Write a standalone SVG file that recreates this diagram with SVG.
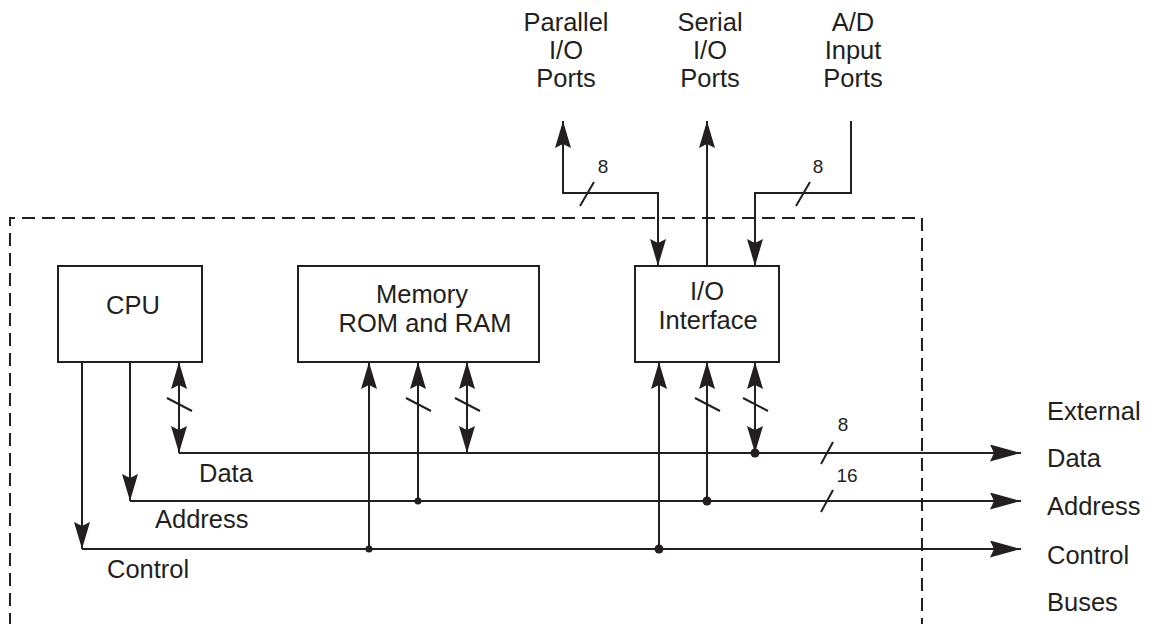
<svg xmlns="http://www.w3.org/2000/svg" width="1156" height="624" viewBox="0 0 1156 624">
<style>
text{font-family:"Liberation Sans",Arial,sans-serif;fill:#231f20;font-size:25.5px}
.sm{font-size:19px}
.mid{text-anchor:middle}
.ln{fill:none;stroke:#231f20;stroke-width:2}
.box{fill:#fff;stroke:#231f20;stroke-width:2}
.dash{fill:none;stroke:#231f20;stroke-width:2;stroke-dasharray:13 7}
.dot{fill:#231f20}
.a{marker-end:url(#ah)}
.b{marker-start:url(#ah);marker-end:url(#ah)}
.r{marker-end:url(#ahL)}
</style>
<defs>
<marker id="ah" markerUnits="userSpaceOnUse" viewBox="0 0 27 16" refX="27" refY="8" markerWidth="27" markerHeight="16" orient="auto-start-reverse">
<path d="M0,0 L27,8 L0,16 L4,8 Z" fill="#231f20"/>
</marker>
<marker id="ahL" markerUnits="userSpaceOnUse" viewBox="0 0 31 17" refX="31" refY="8.5" markerWidth="31" markerHeight="17" orient="auto">
<path d="M0,0 L31,8.5 L0,17 L4,8.5 Z" fill="#231f20"/>
</marker>
</defs>

<path id="boundary" class="dash" d="M10,626 V218 H922 V626"/>

<g id="connectors">
<path class="ln a" d="M658,193 H563 V121" />
<path class="ln a" d="M563,193 H658 V266" />
<path class="ln a" d="M707,266 V121" />
<path class="ln a" d="M851,121 V193 H755 V266" />
<line class="ln" x1="580" y1="206" x2="594" y2="182"/>
<line class="ln" x1="796" y1="206" x2="810" y2="182"/>
<path class="ln r" d="M179,453 H1021" />
<path class="ln r" d="M130,501 H1021" />
<path class="ln r" d="M82,549 H1021" />
<path class="ln b" d="M179,362 V453" />
<path class="ln a" d="M130,362 V501" />
<path class="ln a" d="M82,362 V549" />
<path class="ln a" d="M369,549 V362" />
<path class="ln a" d="M418,501 V362" />
<path class="ln b" d="M467,362 V453" />
<path class="ln a" d="M659,549 V362" />
<path class="ln a" d="M707,501 V362" />
<path class="ln b" d="M755,362 V453" />
<line class="ln" x1="167" y1="398" x2="192" y2="411"/>
<line class="ln" x1="406" y1="398" x2="431" y2="411"/>
<line class="ln" x1="455" y1="398" x2="480" y2="411"/>
<line class="ln" x1="695" y1="398" x2="720" y2="411"/>
<line class="ln" x1="743" y1="398" x2="768" y2="411"/>
<line class="ln" x1="821" y1="464" x2="833" y2="442"/>
<line class="ln" x1="821" y1="512" x2="833" y2="490"/>
<circle class="dot" cx="755" cy="453" r="4.5"/>
<circle class="dot" cx="707" cy="501" r="4.5"/>
<circle class="dot" cx="659" cy="549" r="4.5"/>
<circle class="dot" cx="418" cy="501" r="3.5"/>
<circle class="dot" cx="369" cy="549" r="3.5"/>
</g>

<g id="cpu">
<rect class="box" x="58" y="266" width="144" height="96"/>
<text x="133" y="314" class="mid">CPU</text>
</g>
<g id="memory">
<rect class="box" x="298" y="266" width="241" height="96"/>
<text x="422" y="303" class="mid">Memory</text>
<text x="425" y="332" class="mid">ROM and RAM</text>
</g>
<g id="io">
<rect class="box" x="635" y="266" width="144" height="96"/>
<text x="707" y="300" class="mid">I/O</text>
<text x="708" y="329" class="mid">Interface</text>
</g>
<g id="parallel">
<text x="566" y="31" class="mid">Parallel</text>
<text x="566" y="59" class="mid">I/O</text>
<text x="566" y="87" class="mid">Ports</text>
</g>
<g id="serial">
<text x="710" y="31" class="mid">Serial</text>
<text x="710" y="59" class="mid">I/O</text>
<text x="710" y="87" class="mid">Ports</text>
</g>
<g id="ad">
<text x="853" y="31" class="mid">A/D</text>
<text x="853" y="59" class="mid">Input</text>
<text x="853" y="87" class="mid">Ports</text>
</g>
<g id="labels">
<text x="603" y="173" class="sm mid">8</text>
<text x="818" y="173" class="sm mid">8</text>
<text x="843" y="431" class="sm mid">8</text>
<text x="847" y="482" class="sm mid">16</text>
<text x="199" y="482">Data</text>
<text x="155" y="528">Address</text>
<text x="107" y="578">Control</text>
<text x="1047" y="420">External</text>
<text x="1047" y="467">Data</text>
<text x="1047" y="515">Address</text>
<text x="1047" y="564">Control</text>
<text x="1047" y="611">Buses</text>
</g>
</svg>
